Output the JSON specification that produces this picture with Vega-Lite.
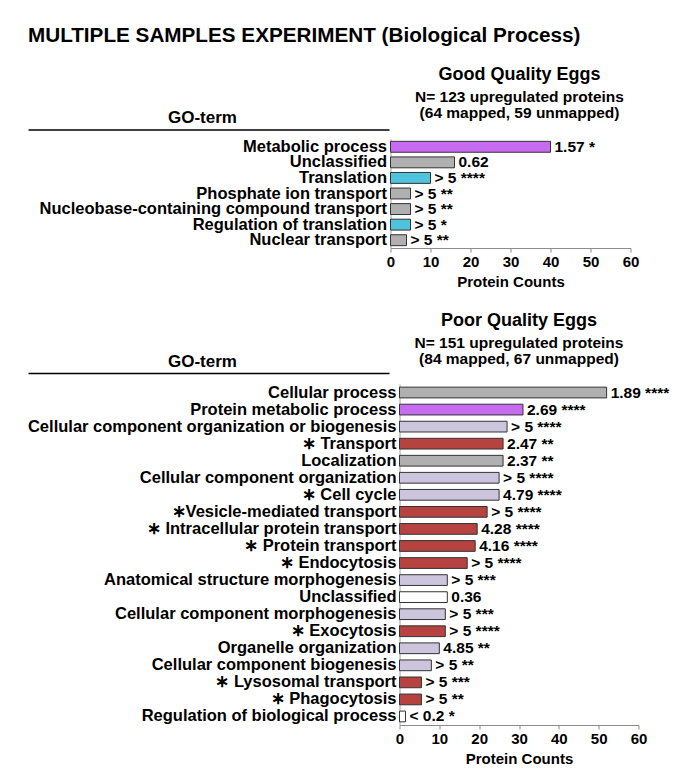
{
  "$schema": "https://vega.github.io/schema/vega-lite/v6.json",
  "background": "white",
  "padding": {"left": 27, "top": 24, "right": 4, "bottom": 4},
  "config": {
    "font": "Liberation Sans",
    "view": {"stroke": null},
    "axis": {"grid": false}
  },
  "datasets": {
    "good": [
      {"term": "Metabolic process", "count": 40, "label": "1.57 *", "cat": "metabolic"},
      {"term": "Unclassified", "count": 16, "label": "0.62", "cat": "hatch"},
      {"term": "Translation", "count": 10, "label": "> 5 ****", "cat": "translation"},
      {"term": "Phosphate ion transport", "count": 5, "label": "> 5 **", "cat": "hatch"},
      {"term": "Nucleobase-containing compound transport", "count": 5, "label": "> 5 **", "cat": "hatch"},
      {"term": "Regulation of translation", "count": 5, "label": "> 5 *", "cat": "translation"},
      {"term": "Nuclear transport", "count": 4, "label": "> 5 **", "cat": "hatch"}
    ],
    "poor": [
      {"term": "Cellular process", "count": 52, "label": "1.89 ****", "cat": "hatch"},
      {"term": "Protein metabolic process", "count": 31, "label": "2.69 ****", "cat": "metabolic"},
      {"term": "Cellular component organization or biogenesis", "count": 27, "label": "> 5 ****", "cat": "lavender"},
      {"term": "∗ Transport", "count": 26, "label": "2.47 **", "cat": "red"},
      {"term": "Localization", "count": 26, "label": "2.37 **", "cat": "hatch"},
      {"term": "Cellular component organization", "count": 25, "label": "> 5 ****", "cat": "lavender"},
      {"term": "∗ Cell cycle", "count": 25, "label": "4.79 ****", "cat": "lavender"},
      {"term": "∗Vesicle-mediated transport", "count": 22, "label": "> 5 ****", "cat": "red"},
      {"term": "∗ Intracellular protein transport", "count": 19.5, "label": "4.28 ****", "cat": "red"},
      {"term": "∗  Protein transport", "count": 19, "label": "4.16 ****", "cat": "red"},
      {"term": "∗ Endocytosis", "count": 17, "label": "> 5 ****", "cat": "red"},
      {"term": "Anatomical structure morphogenesis", "count": 12, "label": "> 5 ***", "cat": "lavender"},
      {"term": "Unclassified", "count": 12, "label": "0.36", "cat": "white"},
      {"term": "Cellular component morphogenesis", "count": 11.5, "label": "> 5 ***", "cat": "lavender"},
      {"term": "∗ Exocytosis", "count": 11.5, "label": "> 5 ****", "cat": "red"},
      {"term": "Organelle organization", "count": 10, "label": "4.85 **", "cat": "lavender"},
      {"term": "Cellular component biogenesis", "count": 8, "label": "> 5 **", "cat": "lavender"},
      {"term": "∗ Lysosomal transport", "count": 5.5, "label": "> 5 ***", "cat": "red"},
      {"term": "∗ Phagocytosis", "count": 5.5, "label": "> 5 **", "cat": "red"},
      {"term": "Regulation of biological process", "count": 1.5, "label": "< 0.2 *", "cat": "white"}
    ]
  },
  "title": {
    "text": "MULTIPLE SAMPLES EXPERIMENT (Biological Process)",
    "anchor": "start",
    "fontSize": 20.7,
    "fontWeight": "bold",
    "color": "black",
    "offset": 19
  },
  "spacing": 22,
  "vconcat": [
    {
      "hconcat": [
        {
          "data": {"name": "good"},
          "width": 361,
          "height": 109,
          "mark": {"type": "text", "align": "right", "baseline": "middle", "dx": -2, "fontSize": 16.5, "fontWeight": "bold", "color": "black"},
          "encoding": {
            "y": {"field": "term", "type": "nominal", "sort": null, "axis": null,
                  "scale": {"type": "band", "paddingInner": 0.3, "paddingOuter": 0.15}},
            "x": {"datum": 1, "type": "quantitative", "scale": {"domain": [0, 1]},
                  "axis": {"orient": "top", "ticks": false, "labels": false, "domain": true,
                           "domainColor": "black", "domainWidth": 1.5, "offset": 9.5,
                           "title": "GO-term", "titleFontSize": 17, "titleFontWeight": "bold",
                           "titleColor": "black", "titlePadding": 3, "titleX": 174}},
            "text": {"field": "term"}
          }
        },
        {
          "data": {"name": "good"},
          "width": 240,
          "height": 109,
          "title": {
            "text": "Good Quality Eggs",
            "subtitle": ["N= 123 upregulated proteins", "(64 mapped, 59 unmapped)"],
            "fontSize": 18, "fontWeight": "bold", "color": "black",
            "subtitleFontSize": 15.5, "subtitleFontWeight": "bold", "subtitleColor": "black",
            "subtitlePadding": 6, "subtitleLineHeight": 16,
            "anchor": "middle", "dx": 9, "offset": 18
          },
          "encoding": {
            "y": {"field": "term", "type": "nominal", "sort": null,
                  "scale": {"type": "band", "paddingInner": 0.3, "paddingOuter": 0.15},
                  "axis": {"labels": false, "ticks": false, "title": null, "domain": true, "domainColor": "#a0a0a0"}},
            "x": {"field": "count", "type": "quantitative", "scale": {"domain": [0, 60]},
                  "axis": {"values": [0, 10, 20, 30, 40, 50, 60], "labelFlush": false,
                           "domainColor": "#8c8c8c", "tickColor": "#8c8c8c", "tickSize": 4,
                           "labelFontSize": 15, "labelFontWeight": "bold", "labelColor": "black", "labelPadding": 2,
                           "title": "Protein Counts", "titleFontSize": 15, "titleFontWeight": "bold",
                           "titleColor": "black", "titlePadding": 5}}
          },
          "layer": [
            {
              "mark": {"type": "bar", "stroke": "#333333", "strokeWidth": 1},
              "encoding": {
                "color": {"field": "cat", "type": "nominal", "legend": null,
                          "scale": {"domain": ["metabolic", "translation", "hatch", "lavender", "red", "white"],
                                    "range": ["#c76cf0", "#4fc3de", "#b0b0b0", "#ccc5de", "#b6433f", "#ffffff"]}}
              }
            },
            {
              "mark": {"type": "text", "align": "left", "baseline": "middle", "dx": 4, "fontSize": 15.5, "fontWeight": "bold", "color": "black"},
              "encoding": {"text": {"field": "label"}}
            }
          ]
        }
      ],
      "spacing": 1.5,
      "bounds": "flush"
    },
    {
      "hconcat": [
        {
          "data": {"name": "poor"},
          "width": 361,
          "height": 341,
          "mark": {"type": "text", "align": "right", "baseline": "middle", "dx": 7.5, "fontSize": 16.5, "fontWeight": "bold", "color": "black"},
          "encoding": {
            "y": {"field": "term", "type": "nominal", "sort": null, "axis": null,
                  "scale": {"type": "band", "paddingInner": 0.37, "paddingOuter": 0.185}},
            "x": {"datum": 1, "type": "quantitative", "scale": {"domain": [0, 1]},
                  "axis": {"orient": "top", "ticks": false, "labels": false, "domain": true,
                           "domainColor": "black", "domainWidth": 1.5, "offset": 11,
                           "title": "GO-term", "titleFontSize": 17, "titleFontWeight": "bold",
                           "titleColor": "black", "titlePadding": 3, "titleX": 174}},
            "text": {"field": "term"}
          }
        },
        {
          "data": {"name": "poor"},
          "width": 239,
          "height": 341,
          "title": {
            "text": "Poor Quality Eggs",
            "subtitle": ["N= 151 upregulated proteins", "(84 mapped, 67 unmapped)"],
            "fontSize": 18, "fontWeight": "bold", "color": "black",
            "subtitleFontSize": 15.5, "subtitleFontWeight": "bold", "subtitleColor": "black",
            "subtitlePadding": 6, "subtitleLineHeight": 16,
            "anchor": "middle", "dx": 0, "offset": 17
          },
          "encoding": {
            "y": {"field": "term", "type": "nominal", "sort": null,
                  "scale": {"type": "band", "paddingInner": 0.37, "paddingOuter": 0.185},
                  "axis": {"labels": false, "ticks": false, "title": null, "domain": true, "domainColor": "#a0a0a0"}},
            "x": {"field": "count", "type": "quantitative", "scale": {"domain": [0, 60]},
                  "axis": {"values": [0, 10, 20, 30, 40, 50, 60], "labelFlush": false,
                           "domainColor": "#8c8c8c", "tickColor": "#8c8c8c", "tickSize": 4,
                           "labelFontSize": 15, "labelFontWeight": "bold", "labelColor": "black", "labelPadding": 2,
                           "title": "Protein Counts", "titleFontSize": 15, "titleFontWeight": "bold",
                           "titleColor": "black", "titlePadding": 5}}
          },
          "layer": [
            {
              "mark": {"type": "bar", "stroke": "#333333", "strokeWidth": 1},
              "encoding": {
                "color": {"field": "cat", "type": "nominal", "legend": null,
                          "scale": {"domain": ["metabolic", "translation", "hatch", "lavender", "red", "white"],
                                    "range": ["#c76cf0", "#4fc3de", "#b0b0b0", "#ccc5de", "#b6433f", "#ffffff"]}}
              }
            },
            {
              "mark": {"type": "text", "align": "left", "baseline": "middle", "dx": 4, "fontSize": 15.5, "fontWeight": "bold", "color": "black"},
              "encoding": {"text": {"field": "label"}}
            }
          ]
        }
      ],
      "spacing": 10.5,
      "bounds": "flush"
    }
  ]
}
